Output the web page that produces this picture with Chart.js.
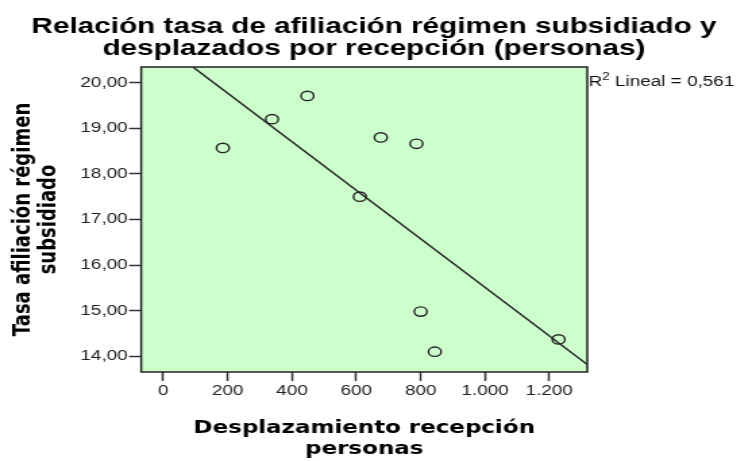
<!DOCTYPE html>
<html>
<head>
<meta charset="utf-8">
<script src="https://cdn.jsdelivr.net/npm/chart.js@4"></script>
<style>
html,body{margin:0;padding:0;background:#fff;overflow:hidden;}
#wrap{width:547px;height:461px;transform:scaleX(1.35);transform-origin:0 0;}
</style>
</head>
<body>
<div id="wrap"><canvas id="c" width="547" height="461"></canvas></div>
<script>
// Data
const xValues = [185, 338, 448, 676, 787, 611, 800, 844, 1229];
const yValues = [18.57, 19.20, 19.71, 18.80, 18.66, 17.50, 14.98, 14.10, 14.37];
// Fit line endpoints (as drawn in the reference)
const trendX = [93, 1318];
const trendY = [20.34, 13.82];
// Tick labels
const xTicks = [0, 200, 400, 600, 800, 1000, 1200];
const yTicks = [14, 15, 16, 17, 18, 19, 20];
const titleLines = ['Relación tasa de afiliación régimen subsidiado y', 'desplazados por recepción (personas)'];
const xTitle = ['Desplazamiento recepción', 'personas'];
const yTitle = ['Tasa afiliación régimen', 'subsidiado'];
const r2Value = '0,561';

const sans = '"Liberation Sans", Arial, sans-serif';
const wide = '"DejaVu Sans", Verdana, sans-serif';

function fmtThousands(v){
  const s = Math.round(v).toString();
  return s.replace(/\B(?=(\d{3})+(?!\d))/g, '.');
}

const decor = {
  id: 'decor',
  beforeDraw(chart){
    const {ctx, chartArea:a} = chart;
    ctx.save();
    ctx.fillStyle = '#ffffff';
    ctx.fillRect(0,0,chart.width,chart.height);
    ctx.fillStyle = '#ccffcc';
    ctx.fillRect(a.left, a.top, a.right-a.left, a.bottom-a.top);
    ctx.restore();
  },
  afterDraw(chart){
    const {ctx, chartArea:a} = chart;
    ctx.save();
    ctx.strokeStyle = '#222';
    ctx.lineWidth = 1.5;
    ctx.strokeRect(a.left, a.top, a.right-a.left, a.bottom-a.top);
    // title
    ctx.fillStyle = '#000';
    ctx.font = 'bold 22px ' + sans;
    ctx.textAlign = 'center';
    ctx.textBaseline = 'alphabetic';
    ctx.fillText(titleLines[0], 277, 33);
    ctx.fillText(titleLines[1], 277, 55);
    // R2 label
    ctx.textAlign = 'left';
    ctx.fillStyle = '#111';
    let x = a.right + 1;
    ctx.font = '14px ' + sans;
    ctx.fillText('R', x, 86);
    x += ctx.measureText('R').width;
    ctx.font = '10px ' + sans;
    ctx.fillText('2', x, 80);
    x += ctx.measureText('2').width;
    ctx.font = '14px ' + sans;
    ctx.fillText(' Lineal = ' + r2Value, x, 86);
    ctx.restore();
  }
};

new Chart(document.getElementById('c'), {
  type: 'scatter',
  data: {
    datasets: [
      {
        data: xValues.map((x,i)=>({x:x, y:yValues[i]})),
        pointStyle: 'circle',
        pointRadius: 4.7,
        pointBorderWidth: 1.4,
        pointBorderColor: '#222',
        pointBackgroundColor: 'rgba(0,0,0,0)',
        showLine: false
      },
      {
        type: 'line',
        data: trendX.map((x,i)=>({x:x, y:trendY[i]})),
        borderColor: '#222',
        borderWidth: 1.4,
        pointRadius: 0,
        fill: false,
        tension: 0
      }
    ]
  },
  options: {
    responsive: false,
    animation: false,
    devicePixelRatio: 1,
    layout: { padding: { top: 67, right: 112, bottom: 0, left: 0 } },
    plugins: { legend: {display:false}, tooltip: {enabled:false}, title: {display:false} },
    scales: {
      x: {
        type: 'linear',
        min: -68.7,
        max: 1318,
        afterBuildTicks: s => { s.ticks = xTicks.map(v=>({value:v})); },
        afterFit: s => { s.height = 89; },
        grid: { display: true, drawOnChartArea: false, drawTicks: true, tickLength: 9, tickWidth: 1.5, tickColor: '#333' },
        border: { display: false },
        ticks: { color: '#222', font: { family: sans, size: 14 }, padding: 2, maxRotation: 0, callback: v => fmtThousands(v) },
        title: { display: true, text: xTitle, color: '#000', font: { family: wide, size: 17, weight: 'bold', lineHeight: 1.235 }, padding: { top: 0, bottom: 0.5 } }
      },
      y: {
        type: 'linear',
        min: 13.655,
        max: 20.344,
        afterBuildTicks: s => { s.ticks = yTicks.map(v=>({value:v})); },
        afterFit: s => { s.width = 104.6; },
        grid: { display: true, drawOnChartArea: false, drawTicks: true, tickLength: 9, tickWidth: 1.5, tickColor: '#333' },
        border: { display: false },
        ticks: { color: '#222', font: { family: sans, size: 14 }, padding: 1, callback: v => v.toFixed(2).replace('.', ',') },
        title: { display: true, text: yTitle, color: '#000', font: { family: wide, size: 18, weight: 'bold', lineHeight: 1.03 }, padding: { top: 8.5, bottom: 0 } }
      }
    }
  },
  plugins: [decor]
});
</script>
</body>
</html>
